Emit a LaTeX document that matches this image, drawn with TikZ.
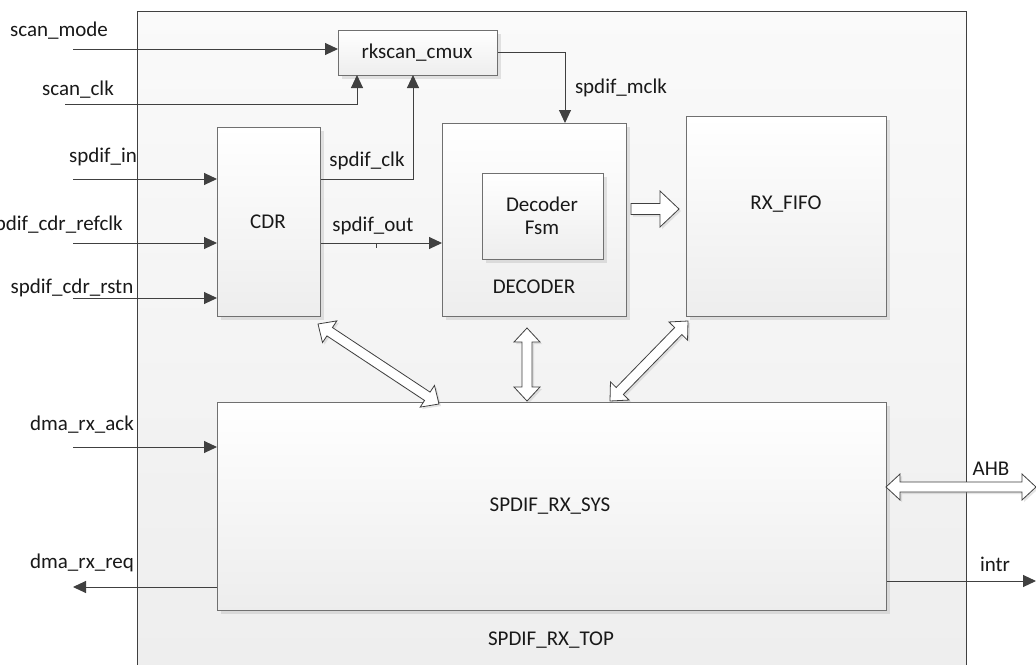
\documentclass[tikz,border=0pt]{standalone}
\usepackage{fontspec}
\setmainfont{Carlito}
\usetikzlibrary{arrows.meta,calc,shadows}
\definecolor{linec}{HTML}{404040}
\definecolor{boxc}{HTML}{707070}
\tikzset{
  box/.style={draw=boxc, line width=1pt, top color=white, bottom color=black!7,
    anchor=north west, inner sep=0pt,
    drop shadow={shadow xshift=3pt, shadow yshift=-3pt, opacity=0.25, fill=black!40}},
  lbl/.style={inner sep=0pt, font=\fontsize{21}{25}\selectfont, text=black!90},
  sig/.style={draw=linec, line width=1pt, -{Triangle[length=13pt,width=12pt]}},
  hollow/.style={draw=linec, line width=0.8pt, fill=white,
    drop shadow={shadow xshift=2pt, shadow yshift=-2pt, opacity=0.25, fill=black!40}},
}
% double-headed hollow arrow between two named coordinates
\newcommand\dblhollow[2]{%
  \path[hollow] (#1)
   -- ($(#1)!14pt!(#2)!13pt!90:(#2)$) -- ($(#1)!14pt!(#2)!5pt!90:(#2)$)
   -- ($(#2)!14pt!(#1)!5pt!-90:(#1)$) -- ($(#2)!14pt!(#1)!13pt!-90:(#1)$)
   -- (#2)
   -- ($(#2)!14pt!(#1)!13pt!90:(#1)$) -- ($(#2)!14pt!(#1)!5pt!90:(#1)$)
   -- ($(#1)!14pt!(#2)!5pt!-90:(#2)$) -- ($(#1)!14pt!(#2)!13pt!-90:(#2)$)
   -- cycle;}
\begin{document}
\begin{tikzpicture}[x=1pt,y=-1pt]
\clip (0,0) rectangle (1036,664);
\fill[white] (0,0) rectangle (1036,664);
% outer box
\node[draw=linec, line width=1pt, top color=black!2, bottom color=black!7, anchor=north west,
  inner sep=0pt, minimum width=829pt, minimum height=700pt] (top) at (137,11) {};
% blocks
\node[box, minimum width=159pt, minimum height=45pt] (mux) at (338,30) {};
\node[box, minimum width=103pt, minimum height=189pt] (cdr) at (217,127) {};
\node[box, minimum width=184pt, minimum height=193pt] (dec) at (442,123) {};
\node[box, minimum width=121pt, minimum height=86pt] (fsm) at (482,173) {};
\node[box, minimum width=200pt, minimum height=200pt] (fifo) at (686,116) {};
\node[box, minimum width=669pt, minimum height=208pt] (sys) at (217,402) {};
% texts in blocks
\node[lbl] (tmux) at (417,53) {rkscan\_cmux};
\node[lbl] (tcdr) at (268,222) {CDR};
\node[lbl, align=center] (tfsm) at (542,216) {Decoder\\[-2pt]Fsm};
\node[lbl] (tdec) at (534,287) {DECODER};
\node[lbl] (tfifo) at (786,204) {RX\_FIFO};
\node[lbl] (tsys) at (550,506) {SPDIF\_RX\_SYS};
\node[lbl] (ttop) at (551,640) {SPDIF\_RX\_TOP};
% free ends
\coordinate (smode) at (73,49);
\coordinate (sclk) at (65,104);
\coordinate (sin) at (73,179);
\coordinate (sref) at (73,243);
\coordinate (srst) at (73,298);
\coordinate (sack) at (73,447);
\coordinate (sreq) at (73,587);
\coordinate (sahb) at (1036,487);
\coordinate (sintr) at (1036,581);
% signal connectors
\draw[sig] (smode) -- (smode -| mux.west);
\draw[sig] (sclk) -| (357,75) coordinate (mclkin);
\draw[sig] (cdr.east |- 0,179) -| (413,75);
\draw[sig] (sin) -- (sin -| cdr.west);
\draw[sig] (sref) -- (sref -| cdr.west);
\draw[sig] (srst) -- (srst -| cdr.west);
\draw[sig] (cdr.east |- 0,243) -- (dec.west |- 0,243);
\draw[linec, line width=0.6pt] (376,243) -- (376,248);
\draw[sig] (mux.east |- 0,52) -| (565,123);
\draw[sig] (sack) -- (sack -| sys.west);
\draw[sig] (sys.west |- 0,587) -- (sreq);
\draw[sig] (sys.east |- 0,581) -- (sintr);
% signal labels
\node[lbl] (lmode) at (59,31) {scan\_mode};
\node[lbl] (lclk) at (78,90) {scan\_clk};
\node[lbl] (lin) at (103,157) {spdif\_in};
\node[lbl, anchor=east] (lref) at (123,225) {spdif\_cdr\_refclk};
\node[lbl] (lrst) at (72,288) {spdif\_cdr\_rstn};
\node[lbl] (lsclk) at (367,161) {spdif\_clk};
\node[lbl] (lsout) at (373,226) {spdif\_out};
\node[lbl] (lmclk) at (621,88) {spdif\_mclk};
\node[lbl] (lack) at (82,425) {dma\_rx\_ack};
\node[lbl] (lreq) at (82,563) {dma\_rx\_req};
\node[lbl] (lahb) at (991,469) {AHB};
\node[lbl] (lintr) at (995,564) {intr};
% hollow arrows
\coordinate (h1a) at (318,324);
\coordinate (h1b) at (439,404);
\coordinate (h2a) at (527,328);
\coordinate (h2b) at (527,401);
\coordinate (h3a) at (688,321);
\coordinate (h3b) at (610,401);
\coordinate (hahb) at (886,487);
\dblhollow{h1a}{h1b}
\dblhollow{h2a}{h2b}
\dblhollow{h3a}{h3b}
\dblhollow{hahb}{sahb}
% single hollow arrow decoder -> fifo
\coordinate (s1a) at (631,209);
\coordinate (s1b) at (679,209);
\path[hollow] ($(s1a)!5.5pt!90:(s1b)$) -- ($(s1b)!19pt!(s1a)!5.5pt!-90:(s1a)$)
  -- ($(s1b)!19pt!(s1a)!18pt!-90:(s1a)$) -- (s1b)
  -- ($(s1b)!19pt!(s1a)!18pt!90:(s1a)$) -- ($(s1b)!19pt!(s1a)!5.5pt!90:(s1a)$)
  -- ($(s1a)!5.5pt!-90:(s1b)$) -- cycle;
\end{tikzpicture}
\end{document}
